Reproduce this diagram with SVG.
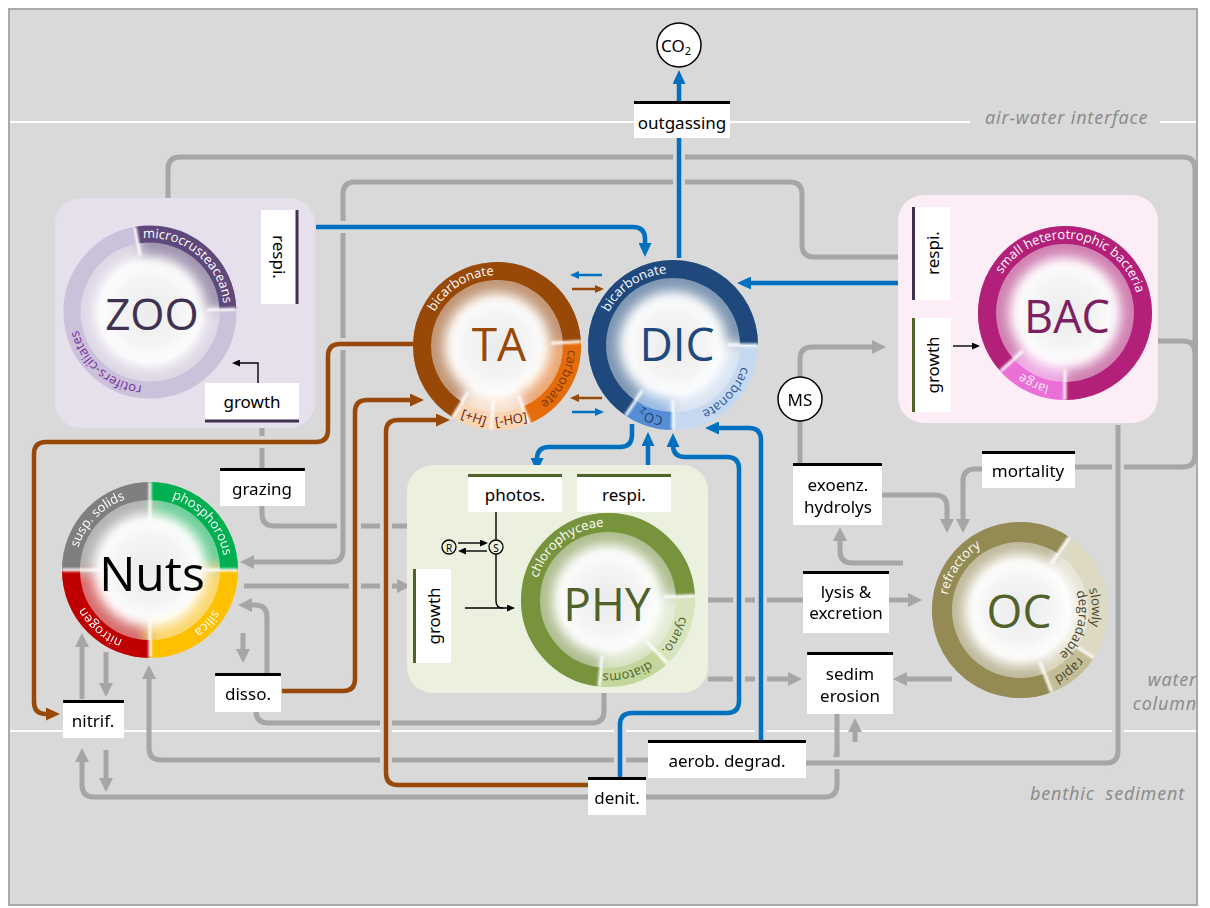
<svg xmlns="http://www.w3.org/2000/svg" width="1210" height="908" viewBox="0 0 1210 908">
<defs>
<style>
.g{fill:none;stroke:#a6a6a6;stroke-width:5}
.b{fill:none;stroke:#0070c0;stroke-width:4.5}
.br{fill:none;stroke:#984807;stroke-width:4.5}
.h{fill:none;stroke:#d9d9d9;stroke-width:12}
.k{fill:none;stroke:#000;stroke-width:1.4}
.box{fill:#fff}
.lbl{font-family:"Noto Sans","DejaVu Sans",sans-serif;font-size:17px;fill:#000;text-anchor:middle;dominant-baseline:central}
.rt{font-family:"Open Sans","Noto Sans",sans-serif;font-size:13px;text-anchor:middle}
.big{font-family:"Open Sans","Noto Sans",sans-serif;text-anchor:middle;dominant-baseline:central}
.it{font-family:"Noto Sans","DejaVu Sans",sans-serif;font-style:italic;font-size:18px;letter-spacing:0.8px;fill:#8c8c8c}
.gl{stroke:#fff;stroke-width:3;opacity:.95}
.glow{fill:none;stroke-width:44;opacity:.55}
</style>
<filter id="bl" x="-30%" y="-30%" width="160%" height="160%"><feGaussianBlur stdDeviation="6"/></filter>
<filter id="bs" x="-50%" y="-50%" width="200%" height="200%"><feGaussianBlur stdDeviation="0.9"/></filter>
<radialGradient id="disc"><stop offset="0" stop-color="#ebebeb"/><stop offset=".5" stop-color="#f5f5f5"/><stop offset=".72" stop-color="#ffffff"/><stop offset="1" stop-color="#f2f2f2"/></radialGradient>
<marker id="ag" viewBox="0 0 14 14" refX="2" refY="7" markerWidth="14" markerHeight="14" markerUnits="userSpaceOnUse" orient="auto"><path d="M0,0L14,7L0,14z" fill="#a6a6a6"/></marker>
<marker id="ab" viewBox="0 0 14 13" refX="2" refY="6.5" markerWidth="14" markerHeight="13" markerUnits="userSpaceOnUse" orient="auto"><path d="M0,0L14,6.5L0,13z" fill="#0070c0"/></marker>
<marker id="abr" viewBox="0 0 14 13" refX="2" refY="6.5" markerWidth="14" markerHeight="13" markerUnits="userSpaceOnUse" orient="auto"><path d="M0,0L14,6.5L0,13z" fill="#984807"/></marker>
<marker id="sb" viewBox="0 0 9 8" refX="1" refY="4" markerWidth="9" markerHeight="8" markerUnits="userSpaceOnUse" orient="auto"><path d="M0,0L9,4L0,8z" fill="#0070c0"/></marker>
<marker id="sbr" viewBox="0 0 9 8" refX="1" refY="4" markerWidth="9" markerHeight="8" markerUnits="userSpaceOnUse" orient="auto"><path d="M0,0L9,4L0,8z" fill="#984807"/></marker>
<marker id="ak" viewBox="0 0 8 7" refX="1" refY="3.5" markerWidth="8" markerHeight="7" markerUnits="userSpaceOnUse" orient="auto"><path d="M0,0L8,3.5L0,7z" fill="#000"/></marker>
<clipPath id="cz"><circle cx="150" cy="312" r="86"/></clipPath>
<clipPath id="cta"><circle cx="497" cy="346" r="84"/></clipPath>
<clipPath id="cdic"><circle cx="673" cy="345" r="85"/></clipPath>
<clipPath id="cbac"><circle cx="1065" cy="313" r="87"/></clipPath>
<clipPath id="cphy"><circle cx="608" cy="600" r="87"/></clipPath>
<clipPath id="coc"><circle cx="1020" cy="610" r="88"/></clipPath>
<clipPath id="cnuts"><circle cx="150" cy="570" r="88"/></clipPath>
<path id="zs1" d="M136.46,235.19A78,78 0 0 1 227.95,309.28"/>
<path id="zs2" d="M227.95,309.28A78,78 0 1 1 136.46,235.19"/>
<path id="tas1" d="M457.26,409.60A75,75 0 1 1 571.90,342.07"/>
<path id="tas2" d="M571.90,342.07A75,75 0 0 1 526.30,415.04"/>
<path id="tas3" d="M526.30,415.04A75,75 0 0 1 491.77,420.82"/>
<path id="tas4" d="M491.77,420.82A75,75 0 0 1 457.26,409.60"/>
<path id="ds1" d="M630.50,408.00A76,76 0 1 1 749,345"/>
<path id="ds2" d="M749,345A76,76 0 0 1 673,421"/>
<path id="ds3" d="M673,421A76,76 0 0 1 630.50,408.00"/>
<path id="bs1" d="M1007.04,365.19A78,78 0 1 1 1065,391"/>
<path id="bs2" d="M1065,391A78,78 0 0 1 1007.04,365.19"/>
<path id="ps1" d="M599.90,677.07A77.5,77.5 0 1 1 685.39,595.94"/>
<path id="ps2" d="M685.39,595.94A77.5,77.5 0 0 1 660.86,656.68"/>
<path id="ps3" d="M660.86,656.68A77.5,77.5 0 0 1 599.90,677.07"/>
<path id="os1" d="M1047.95,682.82A78,78 0 1 1 1063.62,545.34"/>
<path id="os2" d="M1063.62,545.34A78,78 0 0 1 1085.42,652.48"/>
<path id="os3" d="M1085.42,652.48A78,78 0 0 1 1047.95,682.82"/>
<path id="ns1" d="M71,570A79,79 0 0 1 150,491"/>
<path id="ns2" d="M150,491A79,79 0 0 1 229,570"/>
<path id="ns3" d="M229,570A79,79 0 0 1 150,649"/>
<path id="ns4" d="M150,649A79,79 0 0 1 71,570"/>
<path id="zt1" d="M130.85,240.52A74,74 0 0 1 223.90,315.87"/>
<path id="zt2" d="M174.09,381.97A74,74 0 0 1 77.36,297.88"/>
<path id="tat1" d="M426.04,348.48A71,71 0 0 1 530.33,283.31"/>
<path id="tat2" d="M557.21,308.38A71,71 0 0 1 499.48,416.96"/>
<path id="dt1" d="M601.18,350.02A72,72 0 0 1 704.56,280.29"/>
<path id="dt2" d="M741.48,322.75A72,72 0 0 1 658.03,415.42"/>
<path id="dt3" d="M722.10,397.66A72,72 0 0 1 602.84,361.20"/>
<path id="bt1" d="M991.91,301.42A74,74 0 0 1 1138.45,322.02"/>
<path id="bt2" d="M1097.44,379.51A74,74 0 0 1 993.87,333.40"/>
<path id="pt1" d="M535.21,610.23A73.5,73.5 0 0 1 635.53,531.85"/>
<path id="pt2" d="M670.33,561.05A73.5,73.5 0 0 1 610.57,673.46"/>
<path id="pt3" d="M679.00,619.02A73.5,73.5 0 0 1 556.03,651.97"/>
<path id="ot1" d="M952.93,641.27A74,74 0 0 1 1026.45,536.28"/>
<path id="ot2" d="M1053.80,546.43A72,72 0 0 1 1058.15,671.06"/>
<path id="ot3" d="M1065.20,572.08A59,59 0 0 1 1030.25,668.10"/>
<path id="ot4" d="M1094.08,598.27A75,75 0 0 1 993.12,680.02"/>
<path id="nt1" d="M77.90,590.67A75,75 0 0 1 168.14,497.23"/>
<path id="nt2" d="M134.41,496.64A75,75 0 0 1 221.33,593.18"/>
<path id="nt3" d="M221.72,548.07A75,75 0 0 1 133.13,643.08"/>
<path id="nt4" d="M174.42,640.91A75,75 0 0 1 76.38,555.69"/>
</defs>

<rect width="1210" height="908" fill="#fff"/>
<rect x="9" y="9" width="1188" height="896" fill="#d9d9d9" stroke="#a9a9a9" stroke-width="2"/>
<line x1="10" y1="122" x2="970" y2="122" stroke="#fff" stroke-width="2"/>
<line x1="1160" y1="122" x2="1196" y2="122" stroke="#fff" stroke-width="2"/>
<line x1="10" y1="731" x2="1196" y2="731" stroke="#fff" stroke-width="2"/>
<text class="it" x="985" y="124">air-water interface</text>
<text class="it" x="1197" y="686" text-anchor="end">water</text>
<text class="it" x="1197" y="710" text-anchor="end">column</text>
<text class="it" x="1030" y="800" style="white-space:pre">benthic  sediment</text>

<g id="connectors">
  <path class="g" d="M168,198V169Q168,157 180,157H1183Q1195,157 1195,169V455Q1195,467 1183,467H1075"/>
  <path class="g" d="M1158,341H1183Q1195,341 1195,353"/>
  <path class="g" d="M262,428V514Q262,526 274,526H408"/>
  <path class="g" d="M244,586H399" marker-end="url(#ag)"/>
  <path class="g" d="M267,673V617Q267,605 255,605H250" marker-end="url(#ag)"/>
  <path class="g" d="M243,633V651" marker-end="url(#ag)"/>
  <path class="g" d="M82,699V645" marker-end="url(#ag)"/>
  <path class="g" d="M106,652V685" marker-end="url(#ag)"/>
  <path class="g" d="M256,711Q256,723 268,723H592Q604,723 604,711V692"/>
  <path class="g" d="M648,760H161Q149,760 149,748V677" marker-end="url(#ag)"/>
  <path class="g" d="M837,714V785Q837,797 825,797H94Q82,797 82,785V760" marker-end="url(#ag)"/>
  <path class="g" d="M106,750V780" marker-end="url(#ag)"/>
  <path class="g" d="M806,763H825Q837,763 837,751"/>
  <path class="g" d="M855,742V730" marker-end="url(#ag)"/>
  <path class="g" d="M708,600H804"/>
  <path class="g" d="M889,600H910" marker-end="url(#ag)"/>
  <path class="g" d="M708,679H790" marker-end="url(#ag)"/>
  <path class="g" d="M952,679H905" marker-end="url(#ag)"/>
  <path class="g" d="M903,563H852Q840,563 840,551V539" marker-end="url(#ag)"/>
  <path class="g" d="M882,495H935Q947,495 947,507V521" marker-end="url(#ag)"/>
  <path class="g" d="M982,469H975Q963,469 963,481V521" marker-end="url(#ag)"/>
  <path class="g" d="M800,377V359Q800,347 812,347H874" marker-end="url(#ag)"/>
  <path class="g" d="M800,421V463"/>
  <path class="h" d="M898,257H814Q802,257 802,245V194Q802,182 790,182H355Q343,182 343,194V550"/>
  <path class="g" d="M898,257H814Q802,257 802,245V194Q802,182 790,182H355Q343,182 343,194V550Q343,562 331,562H252" marker-end="url(#ag)"/>
  <path class="h" d="M806,763H1106Q1118,763 1118,751V425"/>
  <path class="g" d="M806,763H1106Q1118,763 1118,751V425"/>
  <path class="h" d="M413,344H340Q328,344 328,356V430Q328,442 316,442H46Q34,442 34,454V702"/>
  <path class="br" d="M413,344H340Q328,344 328,356V430Q328,442 316,442H46Q34,442 34,454V702Q34,714 46,714H48" marker-end="url(#abr)"/>
  <path class="h" d="M282,691H343Q355,691 355,679V412"/>
  <path class="br" d="M282,691H343Q355,691 355,679V412Q355,400 367,400H412" marker-end="url(#abr)"/>
  <path class="h" d="M588,785H398Q386,785 386,773V432"/>
  <path class="br" d="M588,785H398Q386,785 386,773V432Q386,420 398,420H438" marker-end="url(#abr)"/>
  <path class="h" d="M316,227H633"/>
  <path class="b" d="M316,227H633Q645,227 645,239V245" marker-end="url(#ab)"/>
  <path class="h" d="M679,258V82"/>
  <path class="b" d="M679,258V82" marker-end="url(#ab)"/>
  <path class="b" d="M898,283H749" marker-end="url(#ab)"/>
  <path class="b" d="M632,424V435Q632,447 620,447H549Q537,447 537,459V460" marker-end="url(#ab)"/>
  <path class="b" d="M648,474V444" marker-end="url(#ab)"/>
  <path class="h" d="M620,777V725Q620,713 632,713H727Q739,713 739,701V469"/>
  <path class="b" d="M620,777V725Q620,713 632,713H727Q739,713 739,701V469Q739,457 727,457H685Q673,457 673,445" marker-end="url(#ab)"/>
  <path class="h" d="M761,740V440"/>
  <path class="b" d="M761,740V440Q761,428 749,428H717" marker-end="url(#ab)"/>
  <path d="M602,275H578" fill="none" stroke="#0070c0" stroke-width="2.5" marker-end="url(#sb)"/>
  <path d="M572,289H596" fill="none" stroke="#984807" stroke-width="2.5" marker-end="url(#sbr)"/>
  <path d="M602,398H578" fill="none" stroke="#984807" stroke-width="2.5" marker-end="url(#sbr)"/>
  <path d="M572,412H596" fill="none" stroke="#0070c0" stroke-width="2.5" marker-end="url(#sb)"/>
</g>

<g id="node-co2">
  <circle cx="679" cy="45" r="22" fill="#fff" stroke="#000" stroke-width="1.5"/>
  <text class="lbl" x="676" y="45" font-size="15">CO<tspan font-size="11" dy="5">2</tspan></text>
</g>
<g id="node-outgassing">
  <rect class="box" x="634" y="101" width="96" height="37"/>
  <line x1="634" y1="102.5" x2="730" y2="102.5" stroke="#000" stroke-width="3"/>
  <text class="lbl" x="682" y="122">outgassing</text>
</g>

<g id="node-zoo">
  <rect x="55" y="198" width="260" height="230" rx="26" fill="#e5e0ec"/>
  <circle cx="150" cy="312" r="70" fill="url(#disc)"/>
  <g clip-path="url(#cz)"><g class="glow" filter="url(#bl)"><use href="#zs1" stroke="#5f497a"/><use href="#zs2" stroke="#ccc1da"/></g></g>
  <use href="#zs1" fill="none" stroke="#5f497a" stroke-width="17"/>
  <use href="#zs2" fill="none" stroke="#ccc1da" stroke-width="17"/>
  <g filter="url(#bs)"><line class="gl" x1="140.10" y1="255.87" x2="135.07" y2="227.31"/><line class="gl" x1="206.97" y1="310.01" x2="235.95" y2="309.00"/></g>
  <text class="rt" font-size="13.5" fill="#fff"><textPath href="#zt1" startOffset="50%">microcrusteaceans</textPath></text>
  <text class="rt" font-size="13.5" fill="#7030a0"><textPath href="#zt2" startOffset="50%">rotifers-ciliates</textPath></text>
  <text class="big" x="152" y="313" font-size="44" fill="#403152">ZOO</text>
  <rect class="box" x="261" y="210" width="37" height="94"/>
  <line x1="297" y1="210" x2="297" y2="304" stroke="#403152" stroke-width="3"/>
  <text class="lbl" transform="translate(279,257) rotate(90)">respi.</text>
  <rect class="box" x="205" y="383" width="94" height="39"/>
  <line x1="205" y1="421" x2="299" y2="421" stroke="#403152" stroke-width="3"/>
  <text class="lbl" x="252" y="401">growth</text>
  <path class="k" d="M258,383V363H239" marker-end="url(#ak)"/>
</g>

<g id="node-ta">
  <circle cx="497" cy="346" r="67" fill="url(#disc)"/>
  <g clip-path="url(#cta)"><g class="glow" filter="url(#bl)"><use href="#tas1" stroke="#984807"/><use href="#tas2" stroke="#e46c0a"/><use href="#tas3" stroke="#fbd4b4"/><use href="#tas4" stroke="#fbd4b4"/></g></g>
  <use href="#tas1" fill="none" stroke="#984807" stroke-width="18"/>
  <use href="#tas2" fill="none" stroke="#e46c0a" stroke-width="18"/>
  <use href="#tas3" fill="none" stroke="#fcd5b5" stroke-width="18"/>
  <use href="#tas4" fill="none" stroke="#fcd5b5" stroke-width="18"/>
  <g filter="url(#bs)"><line class="gl" x1="468.39" y1="391.79" x2="452.49" y2="417.23"/><line class="gl" x1="550.93" y1="343.17" x2="580.88" y2="341.60"/><line class="gl" x1="518.10" y1="395.71" x2="529.82" y2="423.32"/><line class="gl" x1="493.23" y1="399.87" x2="491.14" y2="429.80"/></g>
  <text class="rt" fill="#fff"><textPath href="#tat1" startOffset="50%">bicarbonate</textPath></text>
  <text class="rt" font-size="13.5" fill="#7a3906"><textPath href="#tat2" startOffset="50%">carbonate</textPath></text>
  <text class="rt" font-size="14" fill="#5b1c0c" dominant-baseline="central" transform="translate(474,417) rotate(18)">[+H]</text>
  <text class="rt" font-size="14" fill="#5b1c0c" dominant-baseline="central" transform="translate(511,419) rotate(-9)">[-HO]</text>
  <text class="big" x="499" y="343" font-size="46" fill="#984807">TA</text>
</g>

<g id="node-dic">
  <circle cx="673" cy="345" r="68" fill="url(#disc)"/>
  <g clip-path="url(#cdic)"><g class="glow" filter="url(#bl)"><use href="#ds1" stroke="#1f497d"/><use href="#ds2" stroke="#c6d9f1"/><use href="#ds3" stroke="#558ed5"/></g></g>
  <use href="#ds1" fill="none" stroke="#1f497d" stroke-width="18"/>
  <use href="#ds2" fill="none" stroke="#c6d9f1" stroke-width="18"/>
  <use href="#ds3" fill="none" stroke="#558ed5" stroke-width="18"/>
  <g filter="url(#bs)"><line class="gl" x1="642.24" y1="390.60" x2="625.47" y2="415.47"/><line class="gl" x1="728" y1="345" x2="758" y2="345"/><line class="gl" x1="673" y1="400" x2="673" y2="430"/></g>
  <text class="rt" fill="#fff"><textPath href="#dt1" startOffset="50%">bicarbonate</textPath></text>
  <text class="rt" fill="#2a5699"><textPath href="#dt2" startOffset="50%">carbonate</textPath></text>
  <text class="rt" fill="#1f3864"><textPath href="#dt3" startOffset="50%">CO<tspan font-size="9" dy="3">2</tspan></textPath></text>
  <text class="big" x="677" y="343" font-size="46" fill="#1f497d">DIC</text>
</g>

<g id="node-bac">
  <rect x="898" y="195" width="260" height="228" rx="26" fill="#fdedf7"/>
  <circle cx="1065" cy="313" r="70" fill="url(#disc)"/>
  <g clip-path="url(#cbac)"><g class="glow" filter="url(#bl)"><use href="#bs1" stroke="#b3207a"/><use href="#bs2" stroke="#ea6fd6"/></g></g>
  <use href="#bs1" fill="none" stroke="#b3207a" stroke-width="18"/>
  <use href="#bs2" fill="none" stroke="#ea6fd6" stroke-width="18"/>
  <g filter="url(#bs)"><line class="gl" x1="1022.64" y1="351.14" x2="1000.35" y2="371.21"/><line class="gl" x1="1065" y1="370" x2="1065" y2="400"/></g>
  <text class="rt" font-size="13" fill="#fff"><textPath href="#bt1" startOffset="50%">small heterotrophic bacteria</textPath></text>
  <text class="rt" font-size="13" fill="#fde9f6"><textPath href="#bt2" startOffset="50%">large</textPath></text>
  <text class="big" x="1067" y="315" font-size="45" fill="#7b1f62">BAC</text>
  <rect class="box" x="912" y="207" width="38" height="93"/>
  <line x1="913.5" y1="207" x2="913.5" y2="300" stroke="#403152" stroke-width="3"/>
  <text class="lbl" transform="translate(932,253) rotate(-90)">respi.</text>
  <rect class="box" x="912" y="318" width="39" height="94"/>
  <line x1="913.5" y1="318" x2="913.5" y2="412" stroke="#4f6228" stroke-width="3"/>
  <text class="lbl" transform="translate(932,365) rotate(-90)">growth</text>
  <path class="k" d="M953,346H973" marker-end="url(#ak)"/>
</g>

<g id="node-phy">
  <rect x="407" y="465" width="301" height="228" rx="26" fill="#ebf1de"/>
  <circle cx="608" cy="600" r="69" fill="url(#disc)"/>
  <g clip-path="url(#cphy)"><g class="glow" filter="url(#bl)"><use href="#ps1" stroke="#77933c"/><use href="#ps2" stroke="#d7e4bd"/><use href="#ps3" stroke="#c3d69b"/></g></g>
  <use href="#ps1" fill="none" stroke="#77933c" stroke-width="19"/>
  <use href="#ps2" fill="none" stroke="#d7e4bd" stroke-width="19"/>
  <use href="#ps3" fill="none" stroke="#c3d69b" stroke-width="19"/>
  <g filter="url(#bs)"><line class="gl" x1="602.15" y1="655.69" x2="598.91" y2="686.52"/><line class="gl" x1="663.92" y1="597.07" x2="694.88" y2="595.45"/><line class="gl" x1="646.19" y1="640.96" x2="667.33" y2="663.63"/></g>
  <text class="rt" font-size="13.5" fill="#fff"><textPath href="#pt1" startOffset="50%">chlorophyceae</textPath></text>
  <text class="rt" fill="#4f6228"><textPath href="#pt2" startOffset="50%">cyano.</textPath></text>
  <text class="rt" fill="#4f6228"><textPath href="#pt3" startOffset="50%">diatoms</textPath></text>
  <text class="big" x="607" y="603" font-size="46" fill="#4f6228">PHY</text>
  <rect class="box" x="468" y="474" width="94" height="38"/>
  <line x1="468" y1="475.5" x2="562" y2="475.5" stroke="#4f6228" stroke-width="3"/>
  <text class="lbl" x="515" y="494">photos.</text>
  <rect class="box" x="577" y="474" width="94" height="38"/>
  <line x1="577" y1="475.5" x2="671" y2="475.5" stroke="#4f6228" stroke-width="3"/>
  <text class="lbl" x="624" y="494">respi.</text>
  <rect class="box" x="413" y="569" width="38" height="94"/>
  <line x1="414.5" y1="569" x2="414.5" y2="663" stroke="#4f6228" stroke-width="3"/>
  <text class="lbl" transform="translate(433,616) rotate(-90)">growth</text>
  <circle cx="449" cy="547" r="7" fill="none" stroke="#000" stroke-width="1.3"/>
  <text x="449" y="547.5" font-family="Noto Sans, sans-serif" font-size="10" text-anchor="middle" dominant-baseline="central">R</text>
  <circle cx="496" cy="547" r="7" fill="none" stroke="#000" stroke-width="1.3"/>
  <text x="496" y="547.5" font-family="Noto Sans, sans-serif" font-size="10" text-anchor="middle" dominant-baseline="central">S</text>
  <path class="k" d="M458,543H481" marker-end="url(#ak)"/>
  <path class="k" d="M487,551H465" marker-end="url(#ak)"/>
  <path class="k" d="M496,512V540"/>
  <path class="k" d="M496,554V601Q496,608 503,608"/>
  <path class="k" d="M465,608H508" marker-end="url(#ak)"/>
</g>

<g id="node-oc">
  <circle cx="1020" cy="610" r="69" fill="url(#disc)"/>
  <g clip-path="url(#coc)"><g class="glow" filter="url(#bl)"><use href="#os1" stroke="#948a54"/><use href="#os2" stroke="#ddd9c3"/><use href="#os3" stroke="#c4bd97"/></g></g>
  <use href="#os1" fill="none" stroke="#948a54" stroke-width="20"/>
  <use href="#os2" fill="none" stroke="#ddd9c3" stroke-width="20"/>
  <use href="#os3" fill="none" stroke="#c4bd97" stroke-width="20"/>
  <g filter="url(#bs)"><line class="gl" x1="1040.07" y1="662.28" x2="1051.54" y2="692.16"/><line class="gl" x1="1051.32" y1="563.58" x2="1069.21" y2="537.05"/><line class="gl" x1="1066.97" y1="640.50" x2="1093.81" y2="657.92"/></g>
  <text class="rt" font-size="13.5" fill="#fff"><textPath href="#ot1" startOffset="50%">refractory</textPath></text>
  <text class="rt" font-size="11.5" fill="#4a452a"><textPath href="#ot2" startOffset="50%">slowly</textPath></text>
  <text class="rt" font-size="11.5" fill="#4a452a"><textPath href="#ot3" startOffset="46%">degradable</textPath></text>
  <text class="rt" font-size="11.5" fill="#4a452a"><textPath href="#ot4" startOffset="50%">rapid</textPath></text>
  <text class="big" x="1019" y="610" font-size="46" fill="#4f6228">OC</text>
</g>

<g id="node-nuts">
  <circle cx="150" cy="570" r="71" fill="url(#disc)"/>
  <g clip-path="url(#cnuts)"><g class="glow" filter="url(#bl)"><use href="#ns1" stroke="#7f7f7f"/><use href="#ns2" stroke="#00b050"/><use href="#ns3" stroke="#ffc000"/><use href="#ns4" stroke="#c00000"/></g></g>
  <use href="#ns1" fill="none" stroke="#7f7f7f" stroke-width="18"/>
  <use href="#ns2" fill="none" stroke="#00b050" stroke-width="18"/>
  <use href="#ns3" fill="none" stroke="#ffc000" stroke-width="18"/>
  <use href="#ns4" fill="none" stroke="#c00000" stroke-width="18"/>
  <g filter="url(#bs)"><line class="gl" x1="150" y1="482" x2="150" y2="522"/><line class="gl" x1="150" y1="618" x2="150" y2="658"/><line class="gl" x1="62" y1="570" x2="102" y2="570"/><line class="gl" x1="198" y1="570" x2="238" y2="570"/></g>
  <text class="rt" font-size="13" fill="#fff"><textPath href="#nt1" startOffset="50%">susp. solids</textPath></text>
  <text class="rt" font-size="14.5" fill="#fff"><textPath href="#nt2" startOffset="50%">phosphorous</textPath></text>
  <text class="rt" font-size="14.5" fill="#fff"><textPath href="#nt3" startOffset="50%">silica</textPath></text>
  <text class="rt" font-size="14.5" fill="#fff"><textPath href="#nt4" startOffset="50%">nitrogen</textPath></text>
  <text class="big" x="152" y="572" font-size="48" fill="#000">Nuts</text>
</g>

<g id="node-grazing"><rect class="box" x="220" y="468" width="85" height="38"/><line x1="220" y1="469.5" x2="305" y2="469.5" stroke="#000" stroke-width="3"/><text class="lbl" x="262" y="488">grazing</text></g>
<g id="node-nitrif"><rect class="box" x="63" y="700" width="61" height="38"/><line x1="63" y1="701.5" x2="124" y2="701.5" stroke="#000" stroke-width="3"/><text class="lbl" x="93" y="720">nitrif.</text></g>
<g id="node-disso"><rect class="box" x="215" y="673" width="66" height="39"/><line x1="215" y1="674.5" x2="281" y2="674.5" stroke="#000" stroke-width="3"/><text class="lbl" x="248" y="693">disso.</text></g>
<g id="node-ms"><circle cx="800" cy="399" r="22" fill="#fff" stroke="#000" stroke-width="1.5"/><text class="lbl" x="800" y="399" font-size="18">MS</text></g>
<g id="node-exoenz"><rect class="box" x="793" y="463" width="89" height="62"/><line x1="793" y1="464.5" x2="882" y2="464.5" stroke="#000" stroke-width="3"/><text class="lbl" x="838" y="484">exoenz.</text><text class="lbl" x="838" y="506">hydrolys</text></g>
<g id="node-mortality"><rect class="box" x="982" y="451" width="93" height="37"/><line x1="982" y1="452.5" x2="1075" y2="452.5" stroke="#000" stroke-width="3"/><text class="lbl" x="1028" y="470">mortality</text></g>
<g id="node-lysis"><rect class="box" x="803" y="571" width="86" height="62"/><line x1="803" y1="572.5" x2="889" y2="572.5" stroke="#000" stroke-width="3"/><text class="lbl" x="846" y="591">lysis &amp;</text><text class="lbl" x="846" y="612">excretion</text></g>
<g id="node-sedim"><rect class="box" x="807" y="652" width="86" height="62"/><line x1="807" y1="653.5" x2="893" y2="653.5" stroke="#000" stroke-width="3"/><text class="lbl" x="850" y="673">sedim</text><text class="lbl" x="850" y="695">erosion</text></g>
<g id="node-aerob"><rect class="box" x="648" y="740" width="158" height="38"/><line x1="648" y1="741.5" x2="806" y2="741.5" stroke="#000" stroke-width="3"/><text class="lbl" x="727" y="760" font-size="18">aerob. degrad.</text></g>
<g id="node-denit"><rect class="box" x="588" y="777" width="58" height="38"/><line x1="588" y1="778.5" x2="646" y2="778.5" stroke="#000" stroke-width="3"/><text class="lbl" x="617" y="797">denit.</text></g>
</svg>
